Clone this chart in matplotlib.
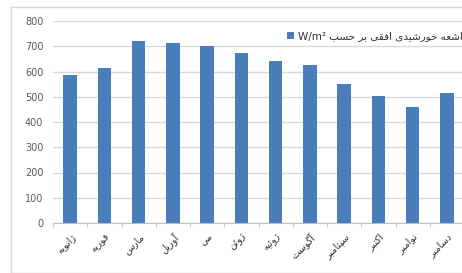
import numpy as np
import matplotlib
matplotlib.use("Agg")
import matplotlib.pyplot as plt
from matplotlib.patches import Rectangle

# data
months = ["ژانویه", "فوریه", "مارس", "آوریل", "می", "ژوئن",
          "ژوئیه", "آگوست", "سپتامبر", "اکتبر", "نوامبر", "دسامبر"]
radiation = [585, 615, 720, 713, 702, 674, 642, 627, 550, 502, 459, 514]
legend_label = "اشعه خورشیدی افقی بر حسب"
unit = "W/m²"
y_ticks = [0, 100, 200, 300, 400, 500, 600, 700, 800]

# simple arabic/persian shaping (matplotlib has no shaping or bidi)
# value: (first presentation form, number of forms)
FORMS = {
    'ا': (0xFE8D, 2), 'آ': (0xFE81, 2), 'ئ': (0xFE89, 4), 'ب': (0xFE8F, 4),
    'پ': (0xFB56, 4), 'ت': (0xFE95, 4), 'ث': (0xFE99, 4), 'ج': (0xFE9D, 4),
    'چ': (0xFB7A, 4), 'ح': (0xFEA1, 4), 'خ': (0xFEA5, 4), 'د': (0xFEA9, 2),
    'ذ': (0xFEAB, 2), 'ر': (0xFEAD, 2), 'ز': (0xFEAF, 2), 'ژ': (0xFB8A, 2),
    'س': (0xFEB1, 4), 'ش': (0xFEB5, 4), 'ص': (0xFEB9, 4), 'ض': (0xFEBD, 4),
    'ط': (0xFEC1, 4), 'ظ': (0xFEC5, 4), 'ع': (0xFEC9, 4), 'غ': (0xFECD, 4),
    'ف': (0xFED1, 4), 'ق': (0xFED5, 4), 'ک': (0xFB8E, 4), 'گ': (0xFB92, 4),
    'ل': (0xFEDD, 4), 'م': (0xFEE1, 4), 'ن': (0xFEE5, 4), 'و': (0xFEED, 2),
    'ه': (0xFEE9, 4), 'ی': (0xFBFC, 4),
}


def rtl(text):
    out = []
    for i, ch in enumerate(text):
        if ch not in FORMS:
            out.append(ch)
            continue
        base, n = FORMS[ch]
        prev = text[i - 1] if i > 0 else ""
        nxt = text[i + 1] if i + 1 < len(text) else ""
        jp = prev in FORMS and FORMS[prev][1] == 4
        jn = n == 4 and nxt in FORMS
        if jp and jn:
            k = 3
        elif jp:
            k = 1
        elif jn:
            k = 2
        else:
            k = 0
        out.append(chr(base + k))
    return "".join(out)[::-1]


plt.rcParams['font.family'] = ['DejaVu Sans']

fig = plt.figure(figsize=(4.62, 2.73), dpi=100)
W, H = 462, 273

# chart border
fig.patches.append(Rectangle((11 / W, 0), 1, 1 - 7 / H, transform=fig.transFigure,
                             fill=False, edgecolor="#d9d9d9", linewidth=1))

ax = fig.add_axes([53 / W, 1 - 223 / H, 411 / W, 202 / H])
x = np.arange(len(months))
ax.bar(x, radiation, width=0.4, color="#4a7ebb", zorder=3,
       label=unit + " " + rtl(legend_label))

ax.set_xlim(-0.5, len(months) - 0.5)
ax.set_ylim(0, 800)
ax.set_yticks(y_ticks)
ax.yaxis.grid(True, color="#d9d9d9", linewidth=1)
ax.tick_params(axis="y", length=0, pad=7, labelsize=7, labelcolor="#595959")

ax.set_xticks(x)
ax.set_xticklabels([rtl(m) for m in months], rotation=45, ha="right",
                   rotation_mode="anchor", fontsize=7, color="#333333")
ax.tick_params(axis="x", which="major", length=0, pad=6)
ax.set_xticks(np.arange(-0.5, len(months), 1), minor=True)
ax.tick_params(axis="x", which="minor", length=3, color="#bfbfbf")

for side in ["top", "right", "left"]:
    ax.spines[side].set_visible(False)
ax.spines["bottom"].set_color("#bfbfbf")

fig.legend(loc="upper left", bbox_to_anchor=(278 / W, 1 - 22 / H), frameon=False,
           fontsize=7.5, handlelength=0.6, handleheight=0.6, handletextpad=0.4,
           labelcolor="#333333")

fig.savefig("out.png", dpi=100)
